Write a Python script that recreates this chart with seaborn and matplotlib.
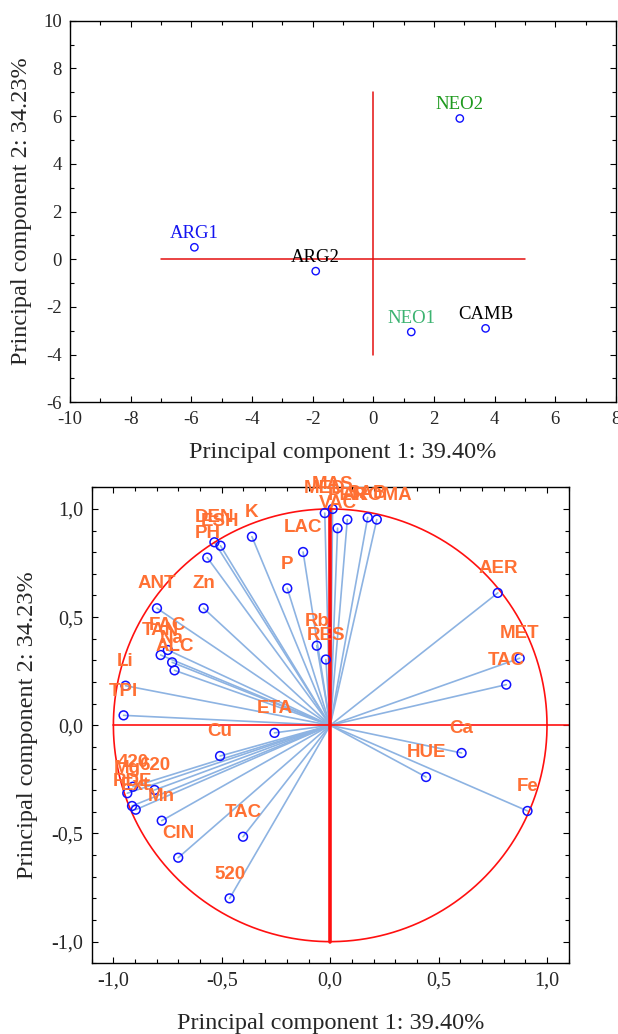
import numpy as np
import pandas as pd
import matplotlib
matplotlib.use('Agg')
import matplotlib.pyplot as plt
from matplotlib.ticker import MultipleLocator, FuncFormatter
import seaborn as sns

# scores (upper panel)
sample_names = ['ARG1', 'ARG2', 'NEO1', 'NEO2', 'CAMB']
sample_pc1 = [-5.9, -1.9, 1.25, 2.85, 3.7]
sample_pc2 = [0.5, -0.5, -3.05, 5.9, -2.9]
sample_colors = ['#1414F0', '#000000', '#3CB371', '#1E9A1E', '#000000']

# reference cross in the score plot
cross_h_x = [-7, 5]
cross_v_y = [-4, 7]

# loadings (lower panel)
var_names = ['MAS', 'MED', 'VAC', 'PER', 'SAB', 'AROMA', 'K', 'DEN', 'ESH', 'PH',
             'LAC', 'P', 'Zn', 'ANT', 'Rb', 'RES', 'FAC', 'TAN', 'Na', 'ALC',
             'Li', 'TPI', 'AER', 'MET', 'TAC', 'Ca', 'HUE', 'Fe', 'ETA', 'Cu',
             '420', '620', 'Mg', 'RDE', 'Ext', 'Mn', 'TAC', 'CIN', '520']
var_pc1 = [0.011, -0.025, 0.034, 0.079, 0.173, 0.215, -0.361, -0.534, -0.506, -0.567,
           -0.125, -0.198, -0.584, -0.799, -0.062, -0.020, -0.749, -0.782, -0.729, -0.718,
           -0.944, -0.953, 0.773, 0.874, 0.812, 0.606, 0.442, 0.910, -0.257, -0.508,
           -0.910, -0.810, -0.936, -0.914, -0.897, -0.777, -0.402, -0.701, -0.464]
var_pc2 = [1.000, 0.981, 0.911, 0.951, 0.961, 0.951, 0.872, 0.846, 0.830, 0.775,
           0.801, 0.633, 0.541, 0.541, 0.368, 0.304, 0.348, 0.325, 0.291, 0.254,
           0.183, 0.046, 0.612, 0.310, 0.188, -0.128, -0.239, -0.396, -0.035, -0.142,
           -0.284, -0.299, -0.314, -0.373, -0.390, -0.441, -0.515, -0.612, -0.800]

xlabel = 'Principal component 1: 39.40%'
ylabel = 'Principal component 2: 34.23%'

sns.set_style('ticks')
plt.rcParams['font.family'] = ['Liberation Serif', 'DejaVu Serif']
plt.rcParams['axes.unicode_minus'] = False
plt.rcParams['xtick.direction'] = 'in'
plt.rcParams['ytick.direction'] = 'in'

fig = plt.figure(figsize=(6.18, 10.34), dpi=100)
ax1 = fig.add_axes([0.1133, 0.6109, 0.8835, 0.3691])
ax2 = fig.add_axes([0.1484, 0.0684, 0.7718, 0.4603])


def style_axes(ax, tick_size):
    for s in ax.spines.values():
        s.set_visible(True)
        s.set_color('black')
        s.set_linewidth(1.0)
    ax.tick_params(which='both', direction='in', top=True, right=True,
                   color='black', labelsize=tick_size, pad=6)
    ax.tick_params(which='major', length=4, width=0.8)
    ax.tick_params(which='minor', length=3, width=0.8)
    ax.grid(False)


# ---- score plot
scores = pd.DataFrame({'PC1': sample_pc1, 'PC2': sample_pc2, 'name': sample_names})
ax1.plot(cross_h_x, [0, 0], color='#E41010', lw=1.1, zorder=1)
ax1.plot([0, 0], cross_v_y, color='#E41010', lw=1.1, zorder=1)
sns.scatterplot(data=scores, x='PC1', y='PC2', ax=ax1, s=28, facecolor='none',
                edgecolor='#1010FF', linewidth=1.0, zorder=3)
for _, r in scores.iterrows():
    ax1.annotate(r['name'], (r['PC1'], r['PC2']), xytext=(0, 10), textcoords='offset points',
                 ha='center', va='center', fontsize=13.5,
                 color=sample_colors[sample_names.index(r['name'])])
ax1.set_xlim(-10, 8)
ax1.set_ylim(-6, 10)
ax1.xaxis.set_major_locator(MultipleLocator(2))
ax1.xaxis.set_minor_locator(MultipleLocator(1))
ax1.yaxis.set_major_locator(MultipleLocator(2))
ax1.yaxis.set_minor_locator(MultipleLocator(1))
style_axes(ax1, 13.5)
ax1.set_xlabel(xlabel, fontsize=17.5, labelpad=10)
ax1.set_ylabel(ylabel, fontsize=17.5, labelpad=8)

# ---- loading plot
loads = pd.DataFrame({'PC1': var_pc1, 'PC2': var_pc2, 'name': var_names})
for x, y in zip(loads['PC1'], loads['PC2']):
    ax2.plot([0, x], [0, y], color='#8DB3E2', lw=1.2, zorder=1)
theta = np.linspace(0, 2 * np.pi, 400)
ax2.plot(np.cos(theta), np.sin(theta), color='#FF1010', lw=1.2, zorder=2)
ax2.plot([-1, 1.1], [0, 0], color='#FF1010', lw=1.2, zorder=2)
ax2.plot([0, 0], [-1, 1], color='#FF1010', lw=2.6, zorder=2)
sns.scatterplot(data=loads, x='PC1', y='PC2', ax=ax2, s=40, facecolor='none',
                edgecolor='#1010FF', linewidth=1.1, zorder=3)
for _, r in loads.iterrows():
    ax2.annotate(r['name'], (r['PC1'], r['PC2']), xytext=(0, 17.5), textcoords='offset points',
                 ha='center', va='center', fontsize=13.5, fontweight='bold',
                 family=['Liberation Sans', 'DejaVu Sans'], color='#FF7033', zorder=4)
ax2.set_xlim(-1.1, 1.1)
ax2.set_ylim(-1.1, 1.1)
ax2.xaxis.set_major_locator(MultipleLocator(0.5))
ax2.xaxis.set_minor_locator(MultipleLocator(0.1))
ax2.yaxis.set_major_locator(MultipleLocator(0.5))
ax2.yaxis.set_minor_locator(MultipleLocator(0.1))
comma = FuncFormatter(lambda v, p: f'{v:.1f}'.replace('.', ','))
ax2.xaxis.set_major_formatter(comma)
ax2.yaxis.set_major_formatter(comma)
style_axes(ax2, 14.5)
ax2.set_xlabel(xlabel, fontsize=17.5, labelpad=16)
ax2.set_ylabel(ylabel, fontsize=17.5, labelpad=10)

fig.savefig('out.png', dpi=100)
